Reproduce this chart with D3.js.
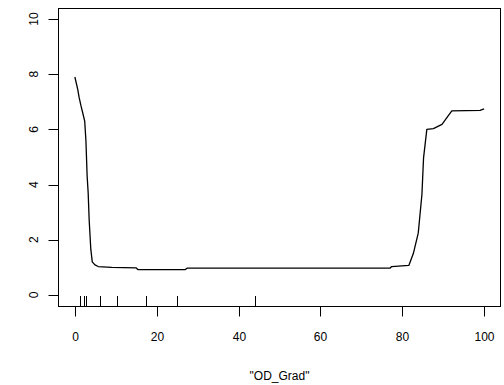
<!DOCTYPE html>
<html>
<head>
<meta charset="utf-8">
<script src="https://cdn.jsdelivr.net/npm/d3@7"></script>
<style>
  body { margin: 0; background: white; }
  text { font-family: "Liberation Sans", Arial, sans-serif; font-size: 12px; fill: #000; }
</style>
</head>
<body>
<div id="grafico"></div>
<script>
// Datos (dependencia parcial de OD_Grad)
var od_grad = [0, 0.7, 1.05, 1.5, 2.0, 2.4, 2.7, 3.0, 3.25, 3.5, 3.9, 4.25, 4.9, 5.7, 9, 15, 15.4, 27, 27.4, 77, 77.4, 81.6, 82.7, 83.9, 84.8, 85.2, 86, 87.6, 89.7, 92.1, 99, 100]
var efecto = [7.9, 7.45, 7.15, 6.85, 6.55, 6.3, 5.6, 4.3, 3.7, 2.7, 1.65, 1.2, 1.09, 1.03, 1.0, 0.98, 0.92, 0.92, 0.97, 0.97, 1.03, 1.07, 1.5, 2.24, 3.64, 4.97, 6.0, 6.03, 6.18, 6.67, 6.69, 6.74]
// rug (deciles)
var rug = [1.2, 2.2, 2.8, 6.1, 10.2, 17.3, 25, 44]
var ticksX = [0, 20, 40, 60, 80, 100]
var ticksY = [0, 2, 4, 6, 8, 10]
var tituloX = '"OD_Grad"'

var width = 504
var height = 385

var x = d3.scaleLinear()
    .domain([-4, 104])
    .range([58.5, 500.5])

var y = d3.scaleLinear()
    .domain([-0.4, 10.4])
    .range([306, 8])

var svg = d3.select("#grafico")
    .append("svg")
    .attr("width", width)
    .attr("height", height)

// caja
svg.append("rect")
    .attr("x", x(-4))
    .attr("y", y(10.4) + 0.5)
    .attr("width", x(104) - x(-4))
    .attr("height", y(-0.4) - y(10.4))
    .attr("fill", "none")
    .attr("stroke", "#000")
    .attr("stroke-width", 1)

// eje x
var ejeX = svg.append("g")
    .attr("transform", "translate(0," + (y(-0.4) + 0.5) + ")")
    .call(d3.axisBottom(x).tickValues(ticksX).tickSize(10).tickPadding(16).tickFormat(d3.format("d")))
ejeX.select(".domain").attr("d", "M" + x(0) + ",0H" + x(100))
ejeX.selectAll(".tick line").attr("stroke", "#000")
ejeX.selectAll(".tick").attr("transform", d => "translate(" + (Math.round(x(d)) + 0.5) + ",0)")
ejeX.selectAll("text")
    .attr("font-size", "12px")
    .attr("font-family", "Liberation Sans, Arial, sans-serif")
    .attr("fill", "#000")

// eje y
var ejeY = svg.append("g")
    .attr("transform", "translate(" + x(-4) + ",0)")
ejeY.append("path")
    .attr("d", "M0," + y(0) + "V" + y(10))
    .attr("stroke", "#000")
ejeY.selectAll("line")
    .data(ticksY)
    .join("line")
    .attr("x1", -10)
    .attr("x2", 0)
    .attr("y1", d => Math.round(y(d)) + 0.5)
    .attr("y2", d => Math.round(y(d)) + 0.5)
    .attr("stroke", "#000")
ejeY.selectAll("text")
    .data(ticksY)
    .join("text")
    .attr("transform", d => "translate(-21," + y(d) + ") rotate(-90)")
    .attr("text-anchor", "middle")
    .text(d => d)

// rug
svg.append("g")
    .selectAll("line")
    .data(rug)
    .join("line")
    .attr("x1", d => Math.round(x(d)) + 0.5)
    .attr("x2", d => Math.round(x(d)) + 0.5)
    .attr("y1", y(-0.4))
    .attr("y2", y(-0.4) - 10)
    .attr("stroke", "#000")

// linea
var linea = d3.line()
    .x((d, i) => x(od_grad[i]))
    .y(d => y(d))

svg.append("path")
    .datum(efecto)
    .attr("d", linea)
    .attr("fill", "none")
    .attr("stroke", "#000")
    .attr("stroke-width", 1.3)
    .attr("stroke-linejoin", "round")

// titulo eje x
svg.append("text")
    .attr("x", (x(-4) + x(104)) / 2)
    .attr("y", 380)
    .attr("text-anchor", "middle")
    .text(tituloX)
</script>
</body>
</html>
